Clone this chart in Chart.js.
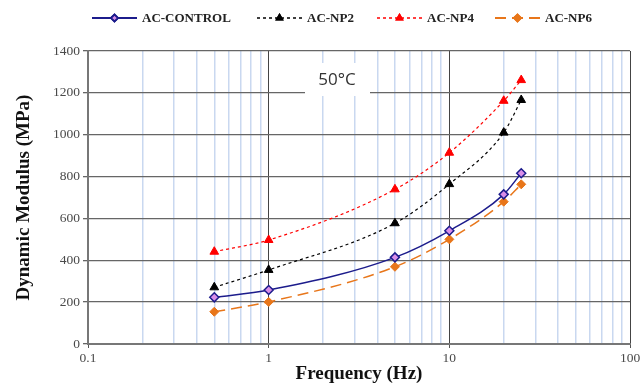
<!DOCTYPE html>
<html>
<head>
<meta charset="utf-8">
<script src="https://cdn.jsdelivr.net/npm/chart.js@4"></script>
<style>
  html, body { margin: 0; padding: 0; background: #fff; }
  #wrap { width: 643px; height: 385px; }
</style>
</head>
<body>
<div id="wrap"><canvas id="modulusChart" width="643" height="385"></canvas></div>
<script>
// frequencies (Hz) and dynamic modulus (MPa)
var frequencies = [0.5, 1, 5, 10, 20, 25];
var acControl = [223, 258, 414, 541, 715, 816];
var acNp2 = [271, 354, 577, 764, 1010, 1166];
var acNp4 = [441, 497, 739, 914, 1162, 1261];
var acNp6 = [154, 201, 369, 500, 680, 763];
var yTicks = [0, 200, 400, 600, 800, 1000, 1200, 1400];
var xLabels = [0.1, 1, 10, 100];
var seriesNames = ['AC-CONTROL', 'AC-NP2', 'AC-NP4', 'AC-NP6'];
var tempLabel = '50°C';

function pts(vals) {
    return frequencies.map(function (f, i) { return { x: f, y: vals[i] }; });
}

var styles = [
    { line: '#1c1c8c', fill: '#d98ee8', dash: [], shape: 'rectRot', r: 4.5, bw: 1.5 },
    { line: '#000000', fill: '#000000', dash: [3, 3], shape: 'triangle', r: 5, bw: 1.2 },
    { line: '#ff0000', fill: '#ff0000', dash: [3, 3], shape: 'triangle', r: 5, bw: 1.2 },
    { line: '#e8761a', fill: '#e8761a', dash: [11, 6], shape: 'rectRot', r: 4.5, bw: 1.5 }
];
var allSeries = [acControl, acNp2, acNp4, acNp6];

var datasets = allSeries.map(function (vals, i) {
    var s = styles[i];
    return {
        label: seriesNames[i],
        data: pts(vals),
        borderColor: s.line,
        borderWidth: s.bw,
        borderDash: s.dash,
        backgroundColor: s.fill,
        pointStyle: s.shape,
        pointRadius: s.r,
        pointBorderColor: s.line,
        pointBackgroundColor: s.fill,
        pointBorderWidth: i === 0 ? 1.5 : 1,
        tension: 0.4,
        cubicInterpolationMode: 'monotone',
        fill: false
    };
});

function isMajor(v) {
    var l = Math.log10(v);
    return Math.abs(l - Math.round(l)) < 1e-6;
}

// white box with the temperature label, drawn over the grid
var tempBox = {
    id: 'tempBox',
    beforeDatasetsDraw: function (chart) {
        var c = chart.ctx;
        c.save();
        c.fillStyle = '#ffffff';
        c.fillRect(305, 63, 65, 33);
        c.fillStyle = '#333333';
        c.font = '17px "Open Sans", "Liberation Sans", sans-serif';
        c.textAlign = 'center';
        c.textBaseline = 'middle';
        c.fillText(tempLabel, 337, 80);
        c.restore();
    }
};

// legend: line sample with the marker in the middle, then the name
var lineLegend = {
    id: 'lineLegend',
    afterDraw: function (chart) {
        var c = chart.ctx;
        var y = 18;
        var starts = [92, 257, 377, 495];
        c.save();
        c.font = 'bold 13px "Liberation Serif", "Times New Roman", serif';
        c.textBaseline = 'middle';
        chart.data.datasets.forEach(function (ds, i) {
            var s = styles[i];
            var x0 = starts[i], x1 = x0 + 45;
            c.strokeStyle = s.line;
            c.lineWidth = s.bw + 0.3;
            c.setLineDash(s.dash);
            c.beginPath();
            c.moveTo(x0, y);
            c.lineTo(x1, y);
            c.stroke();
            c.setLineDash([]);
            Chart.helpers.drawPoint(c, {
                pointStyle: s.shape, radius: 3.5, rotation: 0,
                borderWidth: 1
            }, (x0 + x1) / 2, y);
            c.fillStyle = s.fill;
            c.strokeStyle = s.line;
            c.fill();
            c.stroke();
            c.fillStyle = '#222';
            c.fillText(ds.label, x1 + 5, y + 1);
        });
        c.restore();
    }
};

var serif = '"Liberation Serif", "Times New Roman", serif';

var ctx = document.getElementById('modulusChart').getContext('2d');
var modulusChart = new Chart(ctx, {
    type: 'line',
    data: { datasets: datasets },
    plugins: [tempBox, lineLegend],
    options: {
        responsive: false,
        animation: false,
        layout: { padding: { top: 51, right: 13, left: 0, bottom: 0 } },
        plugins: {
            legend: { display: false },
            tooltip: { enabled: false }
        },
        scales: {
            x: {
                type: 'logarithmic',
                min: 0.1,
                max: 100,
                afterFit: function (scale) { scale.height = 41; },
                afterBuildTicks: function (scale) {
                    var t = [];
                    [0.1, 1, 10].forEach(function (d) {
                        for (var k = 1; k <= 9; k++) t.push({ value: +(d * k).toFixed(6) });
                    });
                    t.push({ value: 100 });
                    scale.ticks = t;
                },
                ticks: {
                    autoSkip: false,
                    maxRotation: 0,
                    padding: 2,
                    color: '#4a4a4a',
                    font: { family: serif, size: 13.5 },
                    callback: function (v) {
                        return xLabels.indexOf(v) >= 0 || isMajor(v) ? String(v) : '';
                    }
                },
                grid: {
                    color: function (c) {
                        return isMajor(c.tick.value) ? '#444444' : '#c9d8f0';
                    },
                    lineWidth: function (c) {
                        return isMajor(c.tick.value) ? 1 : 1.5;
                    },
                    tickColor: function (c) {
                        return isMajor(c.tick.value) ? '#555555' : 'rgba(0,0,0,0)';
                    },
                    tickLength: 4
                },
                border: { color: '#777', width: 2 },
                title: {
                    display: true,
                    text: 'Frequency (Hz)',
                    color: '#111',
                    padding: { top: -4, bottom: 0 },
                    font: { family: serif, size: 19, weight: 'bold' }
                }
            },
            y: {
                min: 0,
                max: 1400,
                afterFit: function (scale) { scale.width = 88; },
                afterBuildTicks: function (scale) {
                    scale.ticks = yTicks.map(function (v) { return { value: v }; });
                },
                ticks: {
                    padding: 3,
                    color: '#4a4a4a',
                    font: { family: serif, size: 13.5 },
                    callback: function (v) { return String(v); }
                },
                grid: { color: '#666666', lineWidth: 1.3, tickLength: 5, tickColor: '#666' },
                border: { color: '#777', width: 2 },
                title: {
                    display: true,
                    text: 'Dynamic Modulus (MPa)',
                    color: '#111',
                    padding: { top: 13, bottom: 0 },
                    font: { family: serif, size: 19, weight: 'bold' }
                }
            }
        }
    }
});
</script>
</body>
</html>
